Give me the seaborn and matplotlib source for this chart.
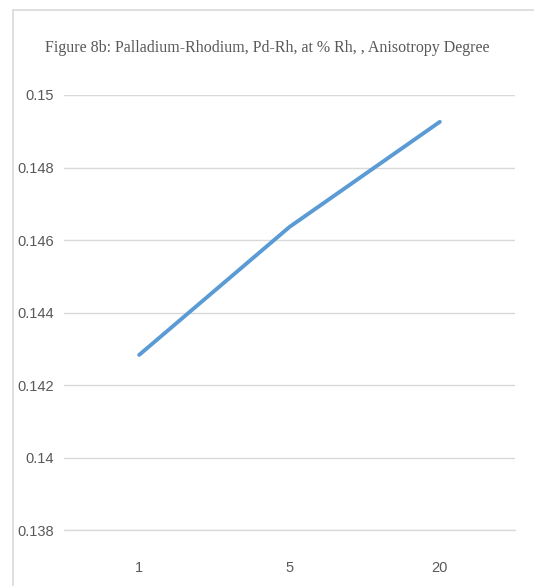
import matplotlib
matplotlib.use("Agg")
import matplotlib.pyplot as plt
import matplotlib.patches as patches
import pandas as pd
import seaborn as sns

# data
categories = ["1", "5", "20"]
values = [0.14283, 0.14636, 0.14926]
y_ticks = [0.138, 0.14, 0.142, 0.144, 0.146, 0.148, 0.15]
y_labels = ["0.138", "0.14", "0.142", "0.144", "0.146", "0.148", "0.15"]

df = pd.DataFrame({"rh": categories, "degree": values})

sns.set_style("white")
plt.rcParams["font.family"] = ["Liberation Sans Narrow", "Liberation Sans", "DejaVu Sans"]

fig = plt.figure(figsize=(5.34, 5.86), dpi=100)
ax = fig.add_axes([64 / 534, 56 / 586, 451 / 534, 435 / 586])

# outer chart border (left and top visible)
fig.patches.append(patches.Rectangle((13 / 534, -0.05), 1.2, 1 - 10 / 586 + 0.05,
                                     transform=fig.transFigure, fill=False,
                                     edgecolor="#d9d9d9", linewidth=1.2))

sns.lineplot(data=df, x="rh", y="degree", ax=ax, color="#5b9bd5",
             linewidth=2.8, sort=False)

ax.set_xlim(-0.5, 2.5)
ax.set_ylim(0.138, 0.15)
ax.set_yticks(y_ticks)
ax.set_yticklabels(y_labels)
ax.grid(axis="y", color="#d9d9d9", linewidth=1.0)
ax.set_axisbelow(True)
for s in ax.spines.values():
    s.set_visible(False)
ax.spines["bottom"].set_visible(True)
ax.spines["bottom"].set_color("#d9d9d9")
ax.spines["bottom"].set_linewidth(1.0)
ax.tick_params(axis="both", length=0, labelsize=10.5, colors="#595959")
ax.tick_params(axis="y", pad=7)
ax.tick_params(axis="x", pad=22)
ax.set_xlabel("")
ax.set_ylabel("")

fig.text(0.5, 1 - 48 / 586, "Figure 8b: Palladium-Rhodium, Pd-Rh, at % Rh, , Anisotropy Degree",
         ha="center", va="center", fontsize=11.5, color="#595959",
         family=["Liberation Serif", "DejaVu Serif"])

fig.savefig("out.png", dpi=100)
plt.close(fig)
